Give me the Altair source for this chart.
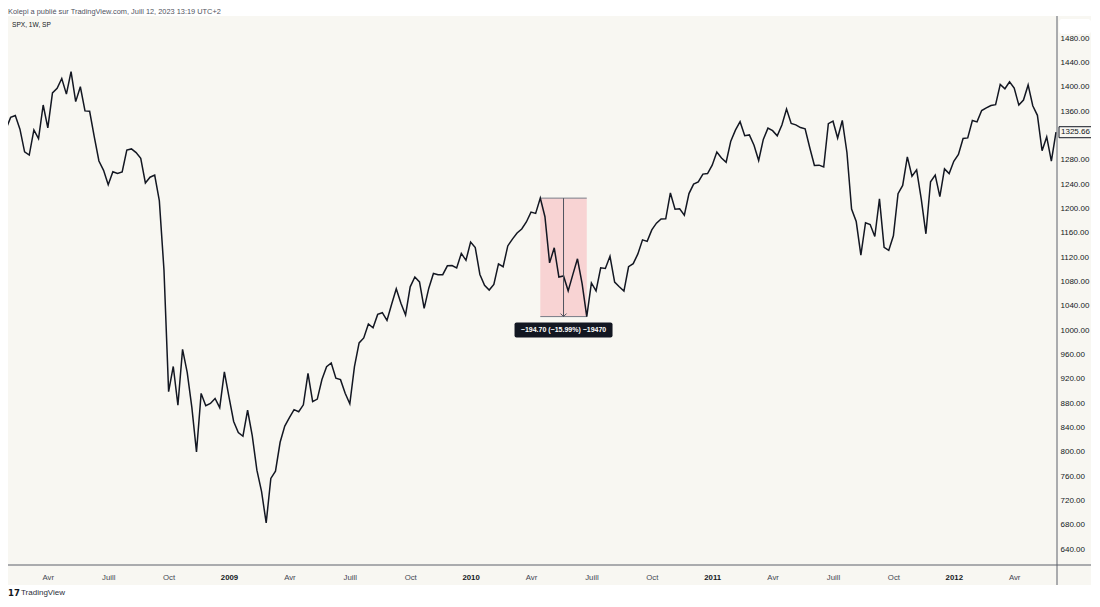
import altair as alt
import pandas as pd

# ---------------- data (weekly closes, SPX 1W) ----------------
first_week = "2008-02-04"
closes_2008 = [1331.29, 1349.99, 1353.11, 1330.63, 1293.37, 1288.14, 1329.51, 1315.22,
               1370.40, 1332.83, 1390.33, 1397.84, 1413.90, 1388.28, 1425.35, 1375.93,
               1400.38, 1360.68, 1360.03, 1317.93, 1278.38, 1262.90, 1239.49, 1260.68,
               1257.76, 1260.31, 1296.32, 1298.20, 1292.20, 1282.83, 1242.31, 1251.70,
               1255.08, 1213.27, 1099.23, 899.22, 940.55, 876.77, 968.75, 930.99,
               873.29, 800.03, 896.24, 876.07, 879.73, 887.88, 872.80, 931.80]
closes_2009 = [890.35, 850.12, 831.95, 825.88, 868.60, 826.84, 770.05, 735.09,
               683.38, 756.55, 768.54, 815.94, 842.50, 856.56, 869.60, 866.23,
               877.52, 929.23, 882.88, 887.00, 919.14, 940.09, 946.21, 921.23,
               918.90, 896.42, 879.13, 940.38, 979.26, 987.48, 1010.48, 1004.09,
               1026.13, 1028.93, 1016.40, 1042.73, 1068.30, 1044.38, 1025.21, 1071.49,
               1087.68, 1079.60, 1036.19, 1069.30, 1093.48, 1091.38, 1091.49, 1105.98,
               1106.41, 1102.47, 1126.48, 1115.10]
closes_2010 = [1144.98, 1136.03, 1091.76, 1073.87, 1066.19, 1075.51, 1109.17, 1104.49,
               1138.70, 1149.99, 1159.90, 1166.59, 1178.10, 1194.37, 1192.13, 1217.28,
               1186.69, 1110.88, 1135.68, 1087.69, 1089.41, 1064.88, 1091.60, 1117.51,
               1076.76, 1022.58, 1077.96, 1064.88, 1102.66, 1101.60, 1121.64, 1079.25,
               1071.69, 1064.59, 1104.51, 1109.55, 1125.59, 1148.67, 1146.24, 1165.15,
               1176.19, 1183.08, 1183.26, 1225.85, 1199.21, 1199.73, 1189.40, 1224.71,
               1240.40, 1243.91, 1256.77, 1257.64]
closes_2011 = [1271.50, 1293.24, 1283.35, 1276.34, 1310.87, 1329.15, 1343.01, 1319.88,
               1321.15, 1304.28, 1279.20, 1313.80, 1332.41, 1328.17, 1319.68, 1337.38,
               1363.61, 1340.20, 1337.77, 1333.27, 1331.10, 1300.16, 1270.98, 1271.50,
               1268.45, 1339.67, 1343.80, 1316.14, 1345.02, 1292.28, 1199.38, 1178.81,
               1123.53, 1176.80, 1173.97, 1154.23, 1216.01, 1136.43, 1131.42, 1155.46,
               1224.58, 1238.25, 1285.09, 1253.23, 1263.85, 1215.65, 1158.67, 1244.28,
               1255.19, 1219.66, 1265.33, 1257.60]
closes_2012 = [1277.81, 1289.09, 1315.38, 1316.33, 1344.90, 1342.64, 1361.23, 1365.74,
               1369.63, 1370.87, 1404.17, 1397.11, 1408.47, 1398.08, 1370.26, 1378.53,
               1403.36, 1369.10, 1353.39, 1295.22, 1317.82, 1278.04, 1325.66]

x_tick_dates = ["2008-04-07", "2008-07-07", "2008-10-06",
                "2009-01-05", "2009-04-06", "2009-07-06", "2009-10-05",
                "2010-01-04", "2010-04-05", "2010-07-05", "2010-10-04",
                "2011-01-03", "2011-04-04", "2011-07-04", "2011-10-03",
                "2012-01-02", "2012-04-02"]
y_ticks = [640, 680, 720, 760, 800, 840, 880, 920, 960, 1000, 1040, 1080, 1120,
           1160, 1200, 1240, 1280, 1360, 1400, 1440, 1480]

meas_start = "2010-04-19"
meas_end = "2010-06-28"
meas_mid = "2010-05-24"
meas_label = "\u2212194.70 (\u221215.99%) \u221219470"

header_text = "Kolepi a publié sur TradingView.com, Juill 12, 2023 13:19 UTC+2"
symbol_text = "SPX, 1W, SP"
brand_logo = "17"
brand_text = "TradingView"

# ---------------- tables ----------------
closes = closes_2008 + closes_2009 + closes_2010 + closes_2011 + closes_2012
dates = pd.date_range(first_week, periods=len(closes), freq="7D").strftime("%Y-%m-%d")
df = pd.DataFrame({"date": dates, "close": closes})

hi = float(df.loc[df.date == meas_start, "close"].iloc[0])
lo = float(df.loc[df.date == meas_end, "close"].iloc[0])
meas_df = pd.DataFrame({"start": [meas_start], "end": [meas_end], "mid": [meas_mid],
                        "hi": [hi], "lo": [lo], "label": [meas_label]})
last_df = df.tail(1)
one = pd.DataFrame({"k": [0]})

# ---------------- styling ----------------
FONT = "Liberation Sans"
PANE = "#f8f7f2"
INK = "#131722"
W, H = 1049, 549

def dt(s, hours=0):
    return alt.DateTime(year=int(s[:4]), month=int(s[5:7]), date=int(s[8:10]),
                        hours=hours, utc=True)

x_scale = alt.Scale(type="utc", domain=[dt("2008-02-07"), dt("2012-06-05", 12)])
y_scale = alt.Scale(domain=[614.2, 1516.7], nice=False, zero=False)

x_axis = alt.Axis(
    values=[dt(s) for s in x_tick_dates],
    labelExpr=("utcmonth(datum.value)==0 ? utcFormat(datum.value,'%Y') : "
               "utcmonth(datum.value)==3 ? 'Avr' : "
               "utcmonth(datum.value)==6 ? 'Juill' : 'Oct'"),
    labelFontWeight={"condition": {"test": "utcmonth(datum.value)==0", "value": "bold"},
                     "value": "normal"},
    labelColor={"condition": {"test": "utcmonth(datum.value)==0", "value": INK},
                "value": "#434651"},
    ticks=False, tickSize=0, domain=False, grid=False, title=None,
    labelPadding=12, labelBaseline="middle", labelFontSize=7.8, labelFont=FONT,
    labelOverlap=False, labelFlush=False,
)
y_axis = alt.Axis(
    orient="right", values=y_ticks, format=".2f", ticks=False, tickSize=0,
    domain=False, grid=False, title=None, labelPadding=3, labelFontSize=8,
    labelFont=FONT, labelColor=INK, labelOverlap=False,
)

X = lambda f: alt.X(f, scale=x_scale, axis=x_axis)
Y = lambda f: alt.Y(f, scale=y_scale, axis=y_axis)

# white strips outside the pane
top_strip = alt.Chart(one).mark_rect(color="white").encode(
    x=alt.value(0), x2=alt.value(W + 40), y=alt.value(-8), y2=alt.value(0))
bottom_strip = alt.Chart(one).mark_rect(color="white").encode(
    x=alt.value(0), x2=alt.value(W + 40), y=alt.value(569), y2=alt.value(H + 40))
white_box = alt.Chart(one).mark_rect(color="white", cornerRadius=3).encode(
    x=alt.value(1051), x2=alt.value(1083), y=alt.value(3), y2=alt.value(18))

# measurement tool
meas_rect = alt.Chart(meas_df).mark_rect(color="#f8d3d3").encode(
    x=X("start:T"), x2="end:T", y=Y("hi:Q"), y2="lo:Q")
meas_top = alt.Chart(meas_df).mark_rule(color="#787b86", strokeWidth=1).encode(
    x=X("start:T"), x2="end:T", y=Y("hi:Q"))
meas_bot = alt.Chart(meas_df).mark_rule(color="#787b86", strokeWidth=1).encode(
    x=X("start:T"), x2="end:T", y=Y("lo:Q"))
meas_arrow = alt.Chart(meas_df).mark_rule(color="#50535e", strokeWidth=1).encode(
    x=X("mid:T"), y=Y("hi:Q"), y2="lo:Q")
meas_head = alt.Chart(meas_df).mark_point(
    shape="M-1,-1L0,0L1,-1", filled=False, size=36, color="#50535e",
    strokeWidth=1, opacity=1).encode(x=X("mid:T"), y=Y("lo:Q"))

box_path = ("M-0.959,-0.153L0.959,-0.153Q1,-0.153 1,-0.112L1,0.112Q1,0.153 0.959,0.153"
            "L-0.959,0.153Q-1,0.153 -1,0.112L-1,-0.112Q-1,-0.153 -0.959,-0.153Z")
meas_box = alt.Chart(meas_df).mark_point(
    shape=box_path, filled=True, size=98 * 98, color=INK, opacity=1,
    yOffset=13.5).encode(x=X("mid:T"), y=Y("lo:Q"))
meas_text = alt.Chart(meas_df).mark_text(
    color="white", fontSize=7, fontWeight="bold", font=FONT, baseline="middle",
    yOffset=13.5).encode(x=X("mid:T"), y=Y("lo:Q"), text="label:N")

# price line
line = alt.Chart(df).mark_line(color=INK, strokeWidth=1.5, clip=True).encode(
    x=X("date:T"), y=Y("close:Q"))

# pane axis lines
h_rule = alt.Chart(one).mark_rule(color="#5d606b", strokeWidth=1).encode(
    x=alt.value(0), x2=alt.value(W + 40), y=alt.value(H))
v_rule = alt.Chart(one).mark_rule(color="#5d606b", strokeWidth=1).encode(
    x=alt.value(W), y=alt.value(0), y2=alt.value(569))

# last price label
price_box = alt.Chart(last_df).mark_point(
    shape="M-1,-0.333L1,-0.333L1,0.333L-1,0.333Z", filled=True, fill=PANE,
    stroke=INK, strokeWidth=1, size=33 * 33, opacity=1).encode(
    x=alt.value(1067.5), y=Y("close:Q"))
price_text = alt.Chart(last_df).mark_text(
    align="left", baseline="middle", fontSize=8, font=FONT, color=INK).encode(
    x=alt.value(1053), y=Y("close:Q"), text=alt.Text("close:Q", format=".2f"))

# texts
header = alt.Chart(one).mark_text(
    align="left", baseline="alphabetic", fontSize=7.4, font=FONT, color="#50535e",
    text=header_text).encode(x=alt.value(0), y=alt.value(-2.5))
symbol = alt.Chart(one).mark_text(
    align="left", baseline="middle", fontSize=6.6, font=FONT, color=INK,
    text=symbol_text).encode(x=alt.value(4), y=alt.value(9))
logo = alt.Chart(one).mark_text(
    align="left", baseline="middle", fontSize=8.5, font="DejaVu Sans", fontWeight="bold",
    color=INK, text=brand_logo).encode(x=alt.value(0), y=alt.value(577))
brand = alt.Chart(one).mark_text(
    align="left", baseline="middle", fontSize=8, font=FONT, color="#2a2e39",
    text=brand_text).encode(x=alt.value(13), y=alt.value(577))

chart = alt.layer(
    top_strip, bottom_strip, white_box,
    meas_rect, meas_top, meas_bot,
    line,
    meas_arrow, meas_head, meas_box, meas_text,
    h_rule, v_rule, price_box, price_text,
    header, symbol, logo, brand,
).properties(
    width=W, height=H,
    autosize=alt.AutoSizeParams(type="none"),
    padding={"left": 0, "top": 8, "right": 34, "bottom": 33},
).configure(background=PANE, font=FONT).configure_view(stroke=None)

chart.save("out.html", embed_options={"renderer": "svg", "actions": False})
